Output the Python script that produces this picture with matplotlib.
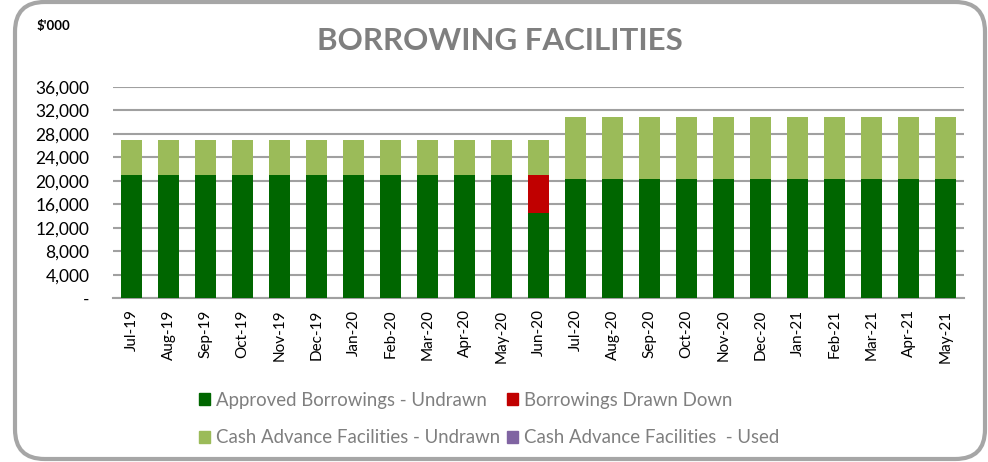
import matplotlib.pyplot as plt
from matplotlib.patches import FancyBboxPatch, Patch
from matplotlib.ticker import FuncFormatter

months = ['Jul-19', 'Aug-19', 'Sep-19', 'Oct-19', 'Nov-19', 'Dec-19', 'Jan-20',
          'Feb-20', 'Mar-20', 'Apr-20', 'May-20', 'Jun-20', 'Jul-20', 'Aug-20',
          'Sep-20', 'Oct-20', 'Nov-20', 'Dec-20', 'Jan-21', 'Feb-21', 'Mar-21',
          'Apr-21', 'May-21']
approved_undrawn = [21000] * 11 + [14500] + [20300] * 11
drawn_down = [0] * 11 + [6500] + [0] * 11
cash_used = [0] * 23
cash_undrawn = [6000] * 12 + [10600] * 11

plt.rcParams['font.family'] = ['Lato', 'DejaVu Sans']

W, H = 988, 462
fig = plt.figure(figsize=(W / 100, H / 100), dpi=100)

# rounded frame round the whole chart
frame = FancyBboxPatch((15 / W, 3 / H), 970 / W, 457 / H,
                       boxstyle='round,pad=0,rounding_size=0.03',
                       transform=fig.transFigure, facecolor='none',
                       edgecolor='#a6a6a6', linewidth=3, mutation_aspect=W / H)
fig.patches.append(frame)

ax = fig.add_axes([113 / W, 1 - 298.3 / H, 851 / W, 211.6 / H])
x = range(len(months))
w = 0.57
ax.bar(x, approved_undrawn, w, color='#006600', zorder=3)
bottom = list(approved_undrawn)
ax.bar(x, drawn_down, w, bottom=bottom, color='#c00000', zorder=3)
bottom = [a + b for a, b in zip(bottom, drawn_down)]
ax.bar(x, cash_used, w, bottom=bottom, color='#8064a2', zorder=3)
bottom = [a + b for a, b in zip(bottom, cash_used)]
ax.bar(x, cash_undrawn, w, bottom=bottom, color='#9bbb59', zorder=3)

ax.set_xlim(-0.5, len(months) - 0.5)
ax.set_ylim(0, 36000)
ax.set_yticks(range(0, 36001, 4000))
ax.yaxis.set_major_formatter(FuncFormatter(lambda v, p: '-' if v == 0 else f'{v:,.0f}'))
ax.grid(axis='y', color='#a0a0a0', linewidth=1.5, zorder=0)
for s in ['top', 'right', 'left']:
    ax.spines[s].set_visible(False)
ax.spines['bottom'].set_color('#a0a0a0')
ax.spines['bottom'].set_linewidth(1.5)
ax.tick_params(axis='y', length=0, labelsize=12.5, pad=17)
ax.tick_params(axis='x', length=0, labelsize=11, pad=8)
ax.set_xticks(list(x))
ax.set_xticklabels(months, rotation=90)

fig.text(500 / W, 1 - 41 / H, 'BORROWING FACILITIES', ha='center', va='center',
         fontsize=22.5, fontweight='bold', color='#7f7f7f')
fig.text(37 / W, 1 - 26 / H, "$'000", ha='left', va='center',
         fontsize=9.5, fontweight='bold', color='black')

handles = [Patch(color='#006600'), Patch(color='#9bbb59'),
           Patch(color='#c00000'), Patch(color='#8064a2')]
labels = ['Approved Borrowings - Undrawn', 'Cash Advance Facilities - Undrawn',
          'Borrowings Drawn Down', 'Cash Advance Facilities  - Used']
leg = fig.legend(handles, labels, ncol=2, loc='center', bbox_to_anchor=(489 / W, 1 - 419 / H),
                 frameon=False, fontsize=13.4, handlelength=0.6, handleheight=0.6,
                 handletextpad=0.3, columnspacing=0.4, labelspacing=1.1)
for t in leg.get_texts():
    t.set_color('#7f7f7f')

fig.savefig('out.png', dpi=100)
